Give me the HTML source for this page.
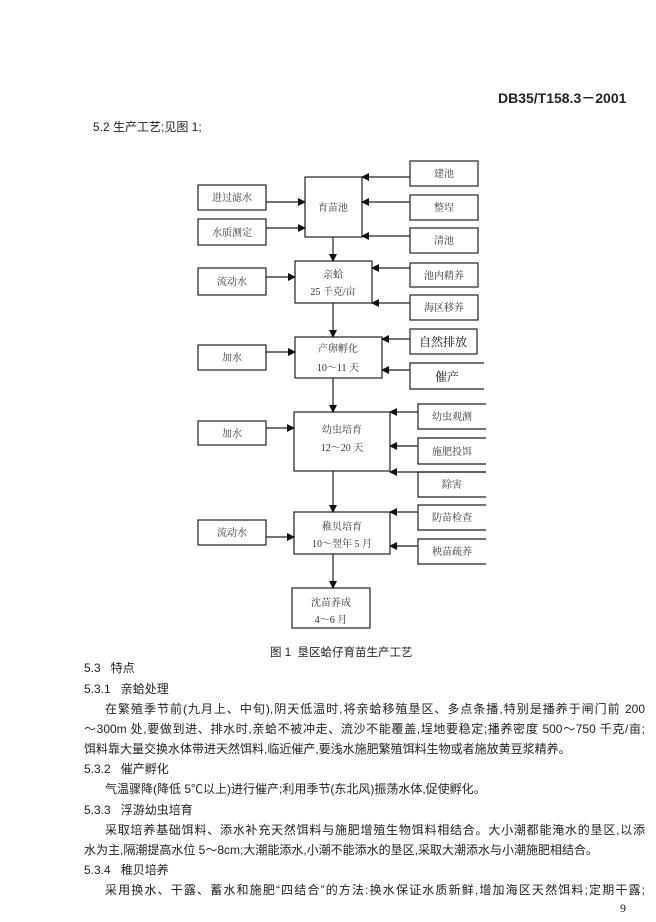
<!DOCTYPE html>
<html><head><meta charset="utf-8"><style>
body{margin:0;background:#fff;}
#p{position:relative;width:656px;height:922px;overflow:hidden;background:#fff;font-family:"Liberation Sans","Noto Sans CJK SC",sans-serif;color:#222;}
.t{position:absolute;white-space:nowrap;font-size:12px;line-height:16px;}
.j{position:absolute;font-size:12px;line-height:16px;text-align:justify;text-align-last:justify;white-space:nowrap;}
svg text{font-family:"Liberation Serif","Noto Serif CJK SC",serif;font-size:10px;fill:#333;text-anchor:middle;}
</style></head><body><div id="p">
<div class="t" style="left:498px;top:90px;font-weight:bold;font-size:14px;">DB35/T158.3－2001</div>
<div class="t" style="left:93px;top:119px;font-size:12px;">5.2 生产工艺;见图 1;</div>
<svg width="656" height="922" style="position:absolute;left:0;top:0" xmlns="http://www.w3.org/2000/svg">
<defs><marker id="a" markerWidth="8" markerHeight="8" refX="7" refY="4" orient="auto" markerUnits="userSpaceOnUse"><path d="M0,0L8,4L0,8z" fill="#111"/></marker></defs>
<g fill="none" stroke="#222" stroke-width="1.2">
<rect x="305" y="177" width="57" height="60"/>
<rect x="295" y="261" width="77" height="42"/>
<rect x="295" y="337" width="87" height="41"/>
<rect x="294" y="412" width="96" height="59"/>
<rect x="294" y="512" width="96" height="42"/>
<rect x="292" y="588" width="78" height="40"/>
<rect x="198" y="185" width="68" height="25"/>
<rect x="198" y="219" width="68" height="26"/>
<rect x="198" y="268" width="68" height="27"/>
<rect x="198" y="345" width="68" height="25"/>
<rect x="198" y="421" width="68" height="24"/>
<rect x="198" y="520" width="68" height="25"/>
<rect x="410" y="161" width="68" height="25"/>
<rect x="410" y="195" width="68" height="25"/>
<rect x="410" y="228" width="68" height="25"/>
<rect x="410" y="263" width="68" height="24"/>
<rect x="410" y="295" width="68" height="25"/>
<rect x="410" y="329" width="67" height="25"/>
<path d="M484,363H410V389H484"/>
<path d="M486,404H418V429H486"/>
<path d="M486,438H418V464H486"/>
<path d="M486,472H418V497H486"/>
<path d="M486,505H418V530H486"/>
<path d="M486,539H418V564H486"/>
</g>
<g stroke="#222" stroke-width="1.2" marker-end="url(#a)">
<line x1="266" y1="202" x2="305" y2="202"/>
<line x1="266" y1="228" x2="305" y2="228"/>
<line x1="410" y1="177" x2="362" y2="177"/>
<line x1="410" y1="202" x2="362" y2="202"/>
<line x1="410" y1="236" x2="362" y2="236"/>
<line x1="333" y1="237" x2="333" y2="261"/>
<line x1="266" y1="277" x2="295" y2="277"/>
<line x1="410" y1="268" x2="372" y2="268"/>
<line x1="410" y1="303" x2="372" y2="303"/>
<line x1="333" y1="303" x2="333" y2="337"/>
<line x1="266" y1="352" x2="295" y2="352"/>
<line x1="410" y1="339" x2="382" y2="339"/>
<line x1="410" y1="370" x2="382" y2="370"/>
<line x1="333" y1="378" x2="333" y2="412"/>
<line x1="266" y1="428" x2="294" y2="428"/>
<line x1="418" y1="412" x2="390" y2="412"/>
<line x1="418" y1="446" x2="390" y2="446"/>
<line x1="486" y1="472" x2="390" y2="472"/>
<line x1="333" y1="471" x2="333" y2="512"/>
<line x1="266" y1="537" x2="294" y2="537"/>
<line x1="418" y1="512" x2="390" y2="512"/>
<line x1="418" y1="546" x2="390" y2="546"/>
<line x1="333" y1="554" x2="333" y2="588"/>
</g>
<text x="333" y="211">育苗池</text>
<text x="333" y="278">亲蛤</text><text x="333" y="295">25 千克/亩</text>
<text x="338" y="352">产卵孵化</text><text x="338" y="371">10～11 天</text>
<text x="342" y="433">幼虫培育</text><text x="342" y="451">12～20 天</text>
<text x="342" y="530">稚贝培育</text><text x="342" y="547">10～翌年 5 月</text>
<text x="331" y="606">沈苗养成</text><text x="331" y="623">4～6 月</text>
<text x="232" y="201">进过滤水</text><text x="232" y="236">水质测定</text>
<text x="232" y="285">流动水</text><text x="232" y="361">加水</text>
<text x="232" y="437">加水</text><text x="232" y="536">流动水</text>
<text x="444" y="177">建池</text><text x="444" y="211">整埕</text><text x="444" y="244">清池</text>
<text x="444" y="279">池内精养</text><text x="444" y="311">海区移养</text>
<text x="443" y="346" style="font-size:12px;fill:#111">自然排放</text>
<text x="447" y="381" style="font-size:12px;fill:#111">催产</text>
<text x="452" y="420">幼虫观测</text><text x="452" y="455">施肥投饵</text><text x="452" y="488">除害</text>
<text x="452" y="521">防苗检查</text><text x="452" y="555">秧苗疏养</text>
</svg>
<div class="t" style="left:270px;top:645px;font-size:11.5px;">图 1&nbsp;&nbsp;垦区蛤仔育苗生产工艺</div>
<div class="t" style="left:84px;top:660px;">5.3&nbsp;&nbsp;&nbsp;特点</div>
<div class="t" style="left:84px;top:681px;">5.3.1&nbsp;&nbsp;&nbsp;亲蛤处理</div>
<div class="j" style="left:105px;top:701px;width:540px;">在繁殖季节前(九月上、中旬),阴天低温时,将亲蛤移殖垦区、多点条播,特别是播养于闸门前 200</div>
<div class="j" style="left:84px;top:721px;width:561px;">～300m 处,要做到进、排水时,亲蛤不被冲走、流沙不能覆盖,埕地要稳定;播养密度 500～750 千克/亩;</div>
<div class="t" style="left:84px;top:741px;">饵料靠大量交换水体带进天然饵料,临近催产,要浅水施肥繁殖饵料生物或者施放黄豆浆精养。</div>
<div class="t" style="left:84px;top:761px;">5.3.2&nbsp;&nbsp;&nbsp;催产孵化</div>
<div class="t" style="left:105px;top:781px;">气温骤降(降低 5℃以上)进行催产;利用季节(东北风)振荡水体,促使孵化。</div>
<div class="t" style="left:84px;top:802px;">5.3.3&nbsp;&nbsp;&nbsp;浮游幼虫培育</div>
<div class="j" style="left:105px;top:822px;width:540px;">采取培养基础饵料、添水补充天然饵料与施肥增殖生物饵料相结合。大小潮都能淹水的垦区,以添</div>
<div class="t" style="left:84px;top:842px;">水为主,隔潮提高水位 5～8cm;大潮能添水,小潮不能添水的垦区,采取大潮添水与小潮施肥相结合。</div>
<div class="t" style="left:84px;top:862px;">5.3.4&nbsp;&nbsp;&nbsp;稚贝培养</div>
<div class="j" style="left:105px;top:882px;width:540px;">采用换水、干露、蓄水和施肥“四结合”的方法:换水保证水质新鲜,增加海区天然饵料;定期干露;</div>
<div class="t" style="left:620px;top:900px;font-family:'Liberation Serif',serif;">9</div>
</div></body></html>
